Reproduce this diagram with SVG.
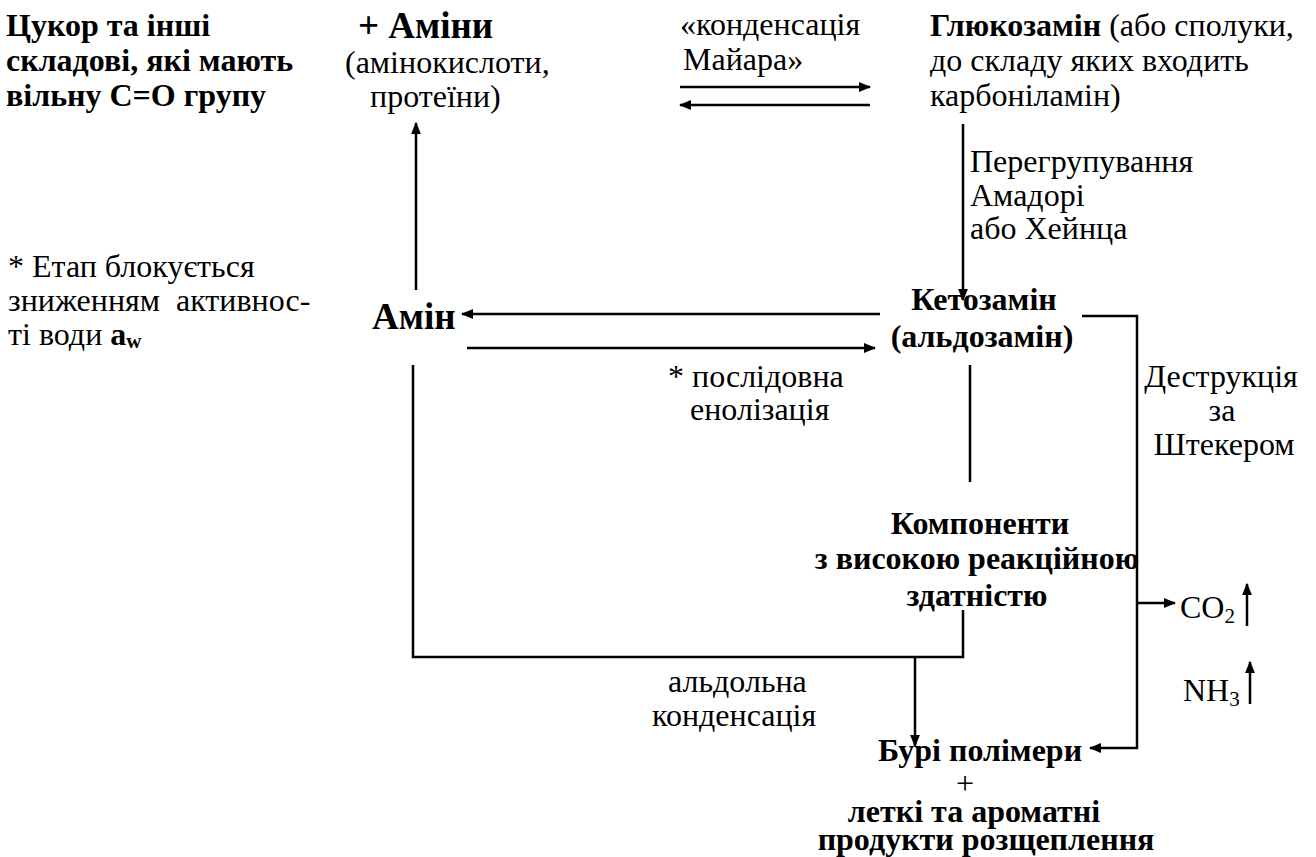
<svg xmlns="http://www.w3.org/2000/svg" width="1316" height="857" viewBox="0 0 1316 857">
  <style>
    text { font-family: "Liberation Serif", "Times New Roman", serif; font-size: 32px; fill: #000; }
    .b { font-weight: bold; }
    .big { font-size: 37px; font-weight: bold; }
    .c { text-anchor: middle; }
    .sub { font-size: 21px; }
    .ln { stroke: #000; stroke-width: 2.5; fill: none; }
  </style>
  <defs>
    <marker id="ah" viewBox="0 0 10 10" refX="9" refY="5" markerWidth="5" markerHeight="5" orient="auto-start-reverse" markerUnits="strokeWidth">
      <path d="M0,1 L10,5 L0,9 Z" fill="#000"/>
    </marker>
  </defs>

  <rect width="1316" height="857" fill="#fff"/>

  <g id="sugar">
    <text class="b" x="6" y="36">Цукор та інші</text>
    <text class="b" x="6" y="71">складові, які мають</text>
    <text class="b" x="6" y="106">вільну С=О групу</text>
  </g>

  <g id="amines">
    <text class="big" x="358" y="38">+ Аміни</text>
    <text x="345" y="73">(амінокислоти,</text>
    <text x="370" y="107">протеїни)</text>
  </g>

  <g id="maillard-label">
    <text x="680" y="35">«конденсація</text>
    <text x="683" y="70">Майара»</text>
  </g>

  <g id="glucosamine">
    <text x="930" y="36"><tspan class="b">Глюкозамін</tspan> (або сполуки,</text>
    <text x="930" y="71">до складу яких входить</text>
    <text x="930" y="106">карбоніламін)</text>
  </g>

  <g id="rearrangement-label">
    <text x="970" y="172">Перегрупування</text>
    <text x="970" y="206">Амадорі</text>
    <text x="970" y="239">або Хейнца</text>
  </g>

  <g id="note">
    <text x="8" y="277">* Етап блокується</text>
    <text x="8" y="311" xml:space="preserve">зниженням  активнос-</text>
    <text x="8" y="345">ті води <tspan class="b">a</tspan><tspan class="b sub" dy="3">w</tspan></text>
  </g>

  <g id="amine">
    <text class="big" x="372" y="329">Амін</text>
  </g>

  <g id="ketosamine">
    <text class="b c" x="984" y="310">Кетозамін</text>
    <text class="b c" x="982" y="347">(альдозамін)</text>
  </g>

  <g id="enolization-label">
    <text x="668" y="387">* послідовна</text>
    <text x="690" y="420">енолізація</text>
  </g>

  <g id="stecker-label">
    <text class="c" x="1221" y="387">Деструкція</text>
    <text class="c" x="1222" y="421">за</text>
    <text class="c" x="1224" y="455">Штекером</text>
  </g>

  <g id="reactive-components">
    <text class="b c" x="980" y="534">Компоненти</text>
    <text class="b c" x="977" y="569">з високою реакційною</text>
    <text class="b c" x="977" y="606">здатністю</text>
  </g>

  <g id="aldol-label">
    <text x="668" y="692">альдольна</text>
    <text x="652" y="726">конденсація</text>
  </g>

  <g id="gases">
    <text x="1180" y="618">CO<tspan class="sub" dy="5">2</tspan></text>
    <text x="1183" y="701">NH<tspan class="sub" dy="5">3</tspan></text>
  </g>

  <g id="brown-polymers">
    <text class="b c" x="980" y="761">Бурі полімери</text>
    <text class="c" x="965" y="794">+</text>
    <text class="b c" x="974" y="822">леткі та ароматні</text>
    <text class="b c" x="986" y="850">продукти розщеплення</text>
  </g>

  <g id="connectors">
    <!-- Maillard condensation, reversible -->
    <line class="ln" x1="680" y1="87" x2="870" y2="87" marker-end="url(#ah)"/>
    <line class="ln" x1="870" y1="105" x2="680" y2="105" marker-end="url(#ah)"/>
    <!-- Amadori / Heyns rearrangement -->
    <line class="ln" x1="963" y1="124" x2="963" y2="300" marker-end="url(#ah)"/>
    <!-- amine released back to the amine pool -->
    <line class="ln" x1="416" y1="290" x2="416" y2="123" marker-end="url(#ah)"/>
    <!-- amine / ketosamine exchange -->
    <line class="ln" x1="880" y1="314" x2="462" y2="314" marker-end="url(#ah)"/>
    <line class="ln" x1="467" y1="348" x2="875" y2="348" marker-end="url(#ah)"/>
    <!-- ketosamine to reactive components -->
    <line class="ln" x1="970" y1="365" x2="970" y2="482"/>
    <!-- aldol condensation loop -->
    <polyline class="ln" points="963,610 963,657 413,657 413,365"/>
    <line class="ln" x1="915" y1="657" x2="915" y2="746" marker-end="url(#ah)"/>
    <!-- Strecker degradation -->
    <polyline class="ln" points="1082,316 1137,316 1137,748 1090,748" marker-end="url(#ah)"/>
    <line class="ln" x1="1137" y1="603" x2="1175" y2="603" marker-end="url(#ah)"/>
    <line class="ln" x1="1247" y1="626" x2="1247" y2="584" marker-end="url(#ah)"/>
    <line class="ln" x1="1250" y1="704" x2="1250" y2="662" marker-end="url(#ah)"/>
  </g>
</svg>
